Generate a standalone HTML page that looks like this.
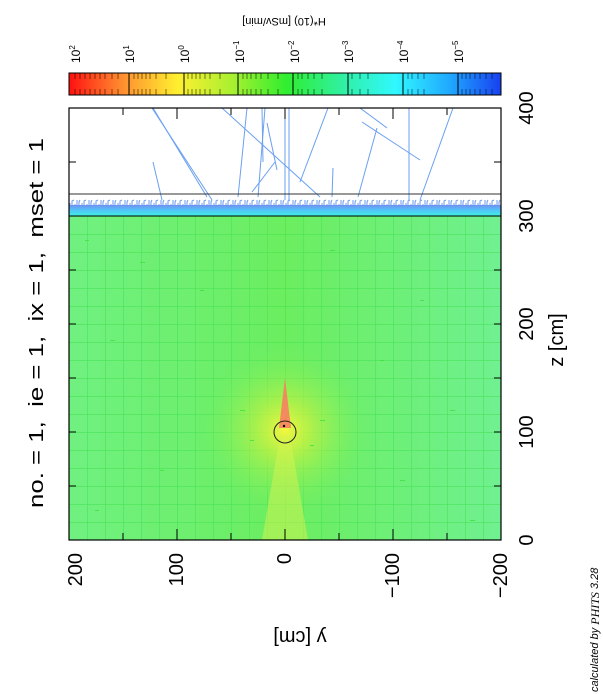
<!DOCTYPE html>
<html><head><meta charset="utf-8"><style>html,body{margin:0;padding:0;background:#fff}svg{display:block}text{font-family:"Liberation Sans",sans-serif}</style></head>
<body>
<svg width="603" height="694" viewBox="0 0 603 694" xmlns="http://www.w3.org/2000/svg">
<defs>
<clipPath id="pc"><rect x="69" y="108" width="432" height="432"/></clipPath>
<linearGradient id="cb" x1="0" x2="1" y1="0" y2="0">
<stop offset="0" stop-color="#ff1010"/>
<stop offset="0.06" stop-color="#ff5020"/>
<stop offset="0.126" stop-color="#ff9030"/>
<stop offset="0.252" stop-color="#fff030"/>
<stop offset="0.378" stop-color="#a8f030"/>
<stop offset="0.504" stop-color="#30ee30"/>
<stop offset="0.63" stop-color="#30f0a0"/>
<stop offset="0.756" stop-color="#30f8ff"/>
<stop offset="0.882" stop-color="#20a8ff"/>
<stop offset="1" stop-color="#1840f0"/>
</linearGradient>
<radialGradient id="src" cx="285" cy="430" r="90" gradientUnits="userSpaceOnUse">
<stop offset="0" stop-color="#f4f640" stop-opacity="1"/>
<stop offset="0.3" stop-color="#c8f240" stop-opacity="0.7"/>
<stop offset="1" stop-color="#66ee66" stop-opacity="0"/>
</radialGradient>
<linearGradient id="band" x1="0" x2="0" y1="0" y2="1">
<stop offset="0" stop-color="#7090f0"/>
<stop offset="0.5" stop-color="#50c8f8"/>
<stop offset="1" stop-color="#40f0e0"/>
</linearGradient>
<linearGradient id="bg" x1="0" x2="1" y1="0" y2="0">
<stop offset="0" stop-color="#70f080"/>
<stop offset="0.5" stop-color="#6cee60"/>
<stop offset="1" stop-color="#70f090"/>
</linearGradient>
<pattern id="grid" x="69" y="108" width="18" height="18" patternUnits="userSpaceOnUse">
<path d="M0 0V18M0 0H18" stroke="#40e050" stroke-width="1.2" fill="none"/>
</pattern>
<pattern id="fuzz" x="69" y="198" width="12" height="9" patternUnits="userSpaceOnUse">
<path d="M1 9V5M3 9V3l2 -1M6 9V6M8 9V2M10 9V4l1 -2" stroke="#6a98ee" stroke-width="1" fill="none"/>
</pattern>
</defs>

<text transform="translate(43,323) rotate(-90)" font-size="20" text-anchor="middle" textLength="370" lengthAdjust="spacingAndGlyphs" xml:space="preserve">no. = 1,  ie = 1,  ix = 1,  mset = 1</text>

<rect x="69" y="73" width="432" height="22" fill="url(#cb)" stroke="#000" stroke-width="1"/>
<g stroke="#000" stroke-width="1">
<line x1="129" y1="73" x2="129" y2="95"/><line x1="184" y1="73" x2="184" y2="95"/><line x1="238" y1="73" x2="238" y2="95"/><line x1="293" y1="73" x2="293" y2="95"/><line x1="348" y1="73" x2="348" y2="95"/><line x1="403" y1="73" x2="403" y2="95"/><line x1="458" y1="73" x2="458" y2="95"/>
</g>
<g stroke="#000" stroke-width="0.7" opacity="0.7">
<path d="M75 73v6M80 73v6M85 73v6M90 73v6M95 73v6M100 73v6M105 73v6M112 73v6M118 73v6M75 95v-6M80 95v-6M85 95v-6M90 95v-6M95 95v-6M100 95v-6M105 95v-6M112 95v-6M118 95v-6"/>
<path d="M134 73v6M138 73v6M142 73v6M146 73v6M150 73v6M156 73v6M166 73v6M134 95v-6M138 95v-6M142 95v-6M146 95v-6M150 95v-6M156 95v-6M166 95v-6"/>
<path d="M188 73v6M192 73v6M196 73v6M200 73v6M205 73v6M210 73v6M220 73v6M188 95v-6M192 95v-6M196 95v-6M200 95v-6M205 95v-6M210 95v-6M220 95v-6"/>
<path d="M243 73v6M247 73v6M251 73v6M256 73v6M261 73v6M268 73v6M278 73v6M243 95v-6M247 95v-6M251 95v-6M256 95v-6M261 95v-6M268 95v-6M278 95v-6"/>
<path d="M298 73v6M302 73v6M308 73v6M314 73v6M322 73v6M298 95v-6M302 95v-6M308 95v-6M314 95v-6M322 95v-6"/>
<path d="M352 73v6M360 73v6M368 73v6M352 95v-6M360 95v-6M368 95v-6"/>
<path d="M408 73v6M412 73v6M418 73v6M424 73v6M408 95v-6M412 95v-6M418 95v-6M424 95v-6"/>
<path d="M462 73v6M466 73v6M470 73v6M475 73v6M480 73v6M486 73v6M492 73v6M462 95v-6M466 95v-6M470 95v-6M475 95v-6M480 95v-6M486 95v-6M492 95v-6"/>
</g>
<g font-size="12">
<text transform="translate(80,63) rotate(-90)">10<tspan font-size="8" dy="-5">2</tspan></text>
<text transform="translate(134,63) rotate(-90)">10<tspan font-size="8" dy="-5">1</tspan></text>
<text transform="translate(189,63) rotate(-90)">10<tspan font-size="8" dy="-5">0</tspan></text>
<text transform="translate(244,63) rotate(-90)">10<tspan font-size="8" dy="-5">−1</tspan></text>
<text transform="translate(299,63) rotate(-90)">10<tspan font-size="8" dy="-5">−2</tspan></text>
<text transform="translate(353,63) rotate(-90)">10<tspan font-size="8" dy="-5">−3</tspan></text>
<text transform="translate(408,63) rotate(-90)">10<tspan font-size="8" dy="-5">−4</tspan></text>
<text transform="translate(463,63) rotate(-90)">10<tspan font-size="8" dy="-5">−5</tspan></text>
</g>
<text transform="translate(284,21) rotate(180)" font-size="11" text-anchor="middle" dominant-baseline="central">H*(10) [mSv/min]</text>

<g clip-path="url(#pc)">
<rect x="69" y="216" width="432" height="324" fill="url(#bg)"/>
<rect x="69" y="216" width="432" height="324" fill="url(#grid)" opacity="0.8"/>
<rect x="69" y="216" width="432" height="324" fill="url(#src)"/>
<polygon points="280,436 290,436 308,540 262,540" fill="#d8f450" opacity="0.5"/>
<polygon points="285,378 279,428 291,428" fill="#f88060" opacity="0.9"/>
<circle cx="285" cy="432" r="11" fill="none" stroke="#222" stroke-width="1"/>
<circle cx="284" cy="426" r="1.2" fill="#000"/>
<g fill="#40e040" opacity="0.8">
<rect x="85" y="240" width="4" height="1"/><rect x="140" y="262" width="5" height="1"/><rect x="200" y="290" width="4" height="1"/><rect x="330" y="250" width="5" height="1"/><rect x="420" y="300" width="4" height="1"/><rect x="110" y="340" width="5" height="1"/><rect x="380" y="360" width="4" height="1"/><rect x="450" y="410" width="5" height="1"/><rect x="160" y="470" width="4" height="1"/><rect x="400" y="480" width="5" height="1"/><rect x="240" y="410" width="5" height="1"/><rect x="320" y="420" width="5" height="1"/><rect x="250" y="440" width="4" height="1"/><rect x="310" y="445" width="4" height="1"/><rect x="470" y="520" width="5" height="1"/><rect x="95" y="510" width="4" height="1"/>
</g>
<rect x="69" y="198" width="432" height="9" fill="url(#fuzz)"/>
<rect x="69" y="205" width="432" height="11" fill="url(#band)"/>
<g stroke="#6aa0f0" stroke-width="1" fill="none">
<line x1="153" y1="108" x2="207" y2="197"/><line x1="222" y1="108" x2="320" y2="197"/><line x1="247" y1="108" x2="238" y2="197"/><line x1="265" y1="108" x2="258" y2="197"/><line x1="262" y1="108" x2="263" y2="162"/><line x1="285" y1="108" x2="285" y2="200"/><line x1="289" y1="108" x2="289" y2="200"/><line x1="328" y1="108" x2="300" y2="182"/><line x1="360" y1="108" x2="387" y2="128"/><line x1="362" y1="122" x2="420" y2="160"/><line x1="377" y1="128" x2="358" y2="197"/><line x1="409" y1="108" x2="409" y2="200"/><line x1="453" y1="108" x2="420" y2="200"/><line x1="275" y1="162" x2="252" y2="192"/><line x1="267" y1="123" x2="277" y2="170"/><line x1="153" y1="162" x2="162" y2="200"/><line x1="333" y1="168" x2="332" y2="197"/><line x1="152" y1="108" x2="212" y2="200"/>
</g>
</g>
<line x1="69" y1="194" x2="501" y2="194" stroke="#333" stroke-width="1"/>
<line x1="69" y1="216" x2="501" y2="216" stroke="#000" stroke-width="1"/>

<rect x="69" y="108" width="432" height="432" fill="none" stroke="#000" stroke-width="1.2"/>
<g stroke="#000" stroke-width="1">
<path d="M123 540v-7M177 540v-11M231 540v-7M285 540v-11M339 540v-7M393 540v-11M447 540v-7"/>
<path d="M123 108v7M177 108v11M231 108v7M285 108v11M339 108v7M393 108v11M447 108v7"/>
<path d="M69 486h7M69 432h7M69 378h7M69 324h7M69 270h7M69 216h7M69 162h7"/>
<path d="M501 486h-7M501 432h-7M501 378h-7M501 324h-7M501 270h-7M501 216h-7M501 162h-7"/>
</g>

<g font-size="20" text-anchor="end">
<text transform="translate(76,553) rotate(-90)" dominant-baseline="central">200</text>
<text transform="translate(177,553) rotate(-90)" dominant-baseline="central">100</text>
<text transform="translate(285,553) rotate(-90)" dominant-baseline="central">0</text>
<text transform="translate(393,553) rotate(-90)" dominant-baseline="central">−100</text>
<text transform="translate(501,553) rotate(-90)" dominant-baseline="central">−200</text>
</g>
<g font-size="20" text-anchor="middle">
<text transform="translate(527,540) rotate(-90)" dominant-baseline="central">0</text>
<text transform="translate(527,432) rotate(-90)" dominant-baseline="central">100</text>
<text transform="translate(527,324) rotate(-90)" dominant-baseline="central">200</text>
<text transform="translate(527,216) rotate(-90)" dominant-baseline="central">300</text>
<text transform="translate(527,108) rotate(-90)" dominant-baseline="central">400</text>
</g>
<text transform="translate(557,340) rotate(-90)" font-size="20" text-anchor="middle" dominant-baseline="central">z [cm]</text>
<text transform="translate(300,637) rotate(180)" font-size="20" text-anchor="middle" dominant-baseline="central">y [cm]</text>
<text transform="translate(595,692) rotate(-90)" font-size="11" font-style="italic" dominant-baseline="central">calculated by <tspan font-family="Liberation Serif" font-size="12">PHITS</tspan> 3.28</text>
</svg>
</body></html>
